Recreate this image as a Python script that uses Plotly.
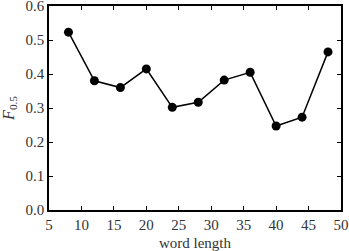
import plotly.graph_objects as go

word_length = [8, 12, 16, 20, 24, 28, 32, 36, 40, 44, 48]
f05 = [0.523, 0.380, 0.360, 0.415, 0.302, 0.317, 0.382, 0.405, 0.247, 0.273, 0.465]
x_ticks = [5, 10, 15, 20, 25, 30, 35, 40, 45, 50]
y_ticks = [0.0, 0.1, 0.2, 0.3, 0.4, 0.5, 0.6]

font = "Liberation Serif"

fig = go.Figure(go.Scatter(
    x=word_length, y=f05, mode="lines+markers",
    line=dict(color="black", width=1.5),
    marker=dict(color="black", size=9),
))

axis_common = dict(
    showline=True, linecolor="black", linewidth=1.5, mirror="ticks",
    ticks="inside", ticklen=4, tickwidth=1, tickcolor="black",
    showgrid=False, zeroline=False, ticklabeloverflow="allow",
    tickfont=dict(family=font, size=15, color="#333"),
)

fig.update_layout(
    width=349, height=251,
    margin=dict(l=49, r=8, t=6, b=41, autoexpand=False),
    plot_bgcolor="white", paper_bgcolor="white",
    showlegend=False,
    font=dict(family=font, color="#333"),
    xaxis=dict(range=[5, 50], tickvals=x_ticks, ticktext=[str(v) for v in x_ticks],
               title=dict(text="word length", font=dict(family=font, size=15, color="#333"), standoff=6),
               automargin=False, **axis_common),
    yaxis=dict(range=[0, 0.6], tickvals=y_ticks, ticktext=[f"{v:.1f}" for v in y_ticks],
               title=dict(text="<i>F</i><sub>0.5</sub>", font=dict(family=font, size=16, color="#333"), standoff=8),
               automargin=False, **axis_common),
)

fig.write_html("out.html", config={"displayModeBar": False},
               post_script="document.body.style.margin='0';document.body.style.overflow='hidden';")
